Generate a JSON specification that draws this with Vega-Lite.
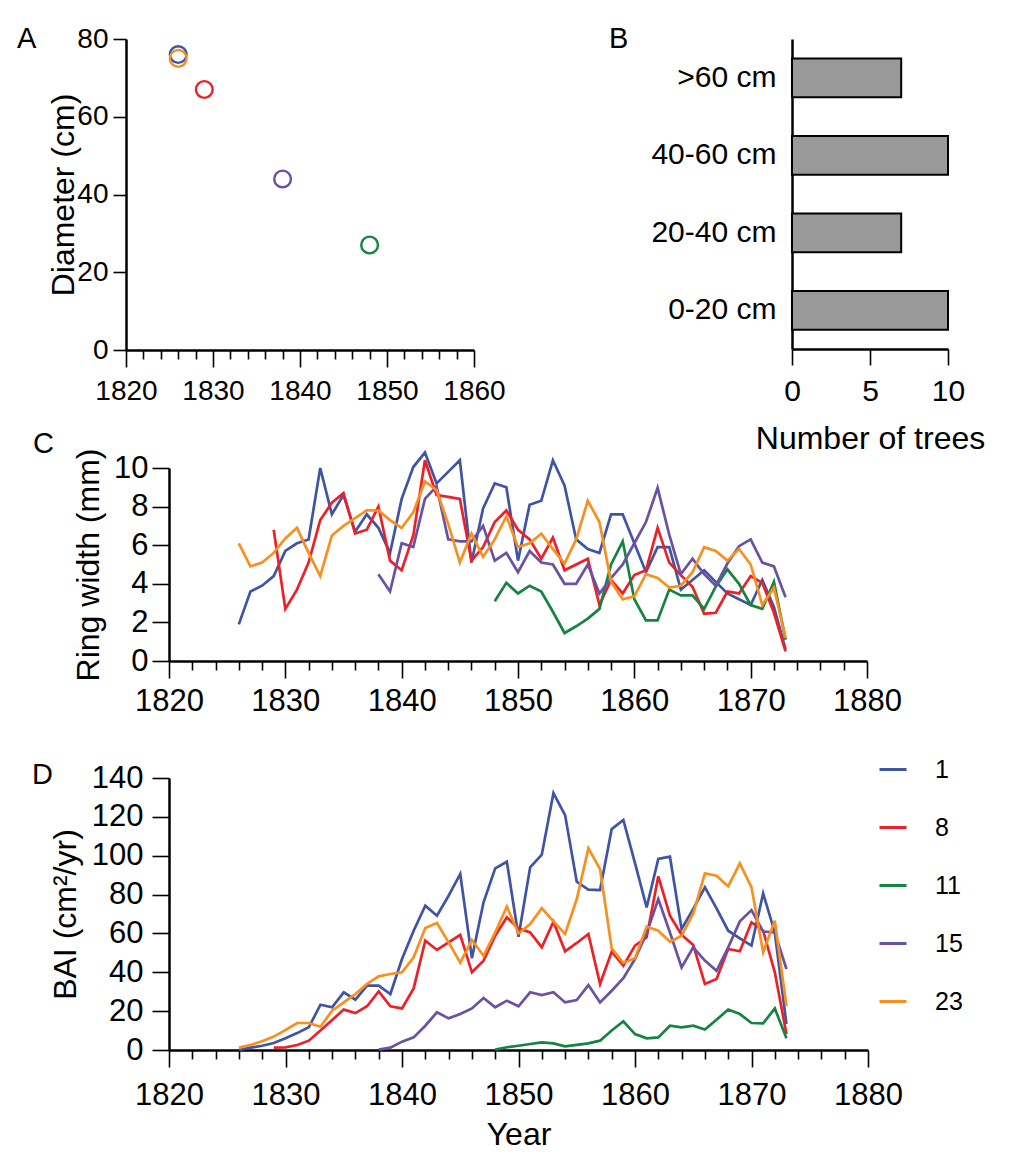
{
  "$schema": "https://vega.github.io/schema/vega-lite/v6.json",
  "background": "white",
  "padding": {"left": 17, "top": 25, "right": 5, "bottom": 5},
  "spacing": -24,
  "datasets": {
    "diam": [
      {"tree": "1", "year": 1826, "diameter": 76},
      {"tree": "8", "year": 1829, "diameter": 67},
      {"tree": "11", "year": 1848, "diameter": 27},
      {"tree": "15", "year": 1838, "diameter": 44},
      {"tree": "23", "year": 1826, "diameter": 75}
    ],
    "classes": [
      {"cls": ">60 cm", "n": 7},
      {"cls": "40-60 cm", "n": 10},
      {"cls": "20-40 cm", "n": 7},
      {"cls": "0-20 cm", "n": 10}
    ],
    "growth": [
      {"tree":"1","year":1826,"rw":1.9,"bai":0},
      {"tree":"1","year":1827,"rw":3.6,"bai":1.2},
      {"tree":"1","year":1828,"rw":3.9,"bai":2.2},
      {"tree":"1","year":1829,"rw":4.4,"bai":3.6},
      {"tree":"1","year":1830,"rw":5.7,"bai":6},
      {"tree":"1","year":1831,"rw":6.1,"bai":8.7},
      {"tree":"1","year":1832,"rw":6.3,"bai":11.7},
      {"tree":"1","year":1833,"rw":10.0,"bai":23.3},
      {"tree":"1","year":1834,"rw":7.6,"bai":22},
      {"tree":"1","year":1835,"rw":8.6,"bai":29.7},
      {"tree":"1","year":1836,"rw":6.7,"bai":25.9},
      {"tree":"1","year":1837,"rw":7.6,"bai":33.1},
      {"tree":"1","year":1838,"rw":6.9,"bai":33.1},
      {"tree":"1","year":1839,"rw":5.6,"bai":28.8},
      {"tree":"1","year":1840,"rw":8.4,"bai":46.8},
      {"tree":"1","year":1841,"rw":10.05,"bai":61.4},
      {"tree":"1","year":1842,"rw":10.8,"bai":74.3},
      {"tree":"1","year":1843,"rw":9.2,"bai":69.1},
      {"tree":"1","year":1844,"rw":9.8,"bai":79.4},
      {"tree":"1","year":1845,"rw":10.4,"bai":90.6},
      {"tree":"1","year":1846,"rw":5.1,"bai":47.3},
      {"tree":"1","year":1847,"rw":7.9,"bai":76},
      {"tree":"1","year":1848,"rw":9.2,"bai":93.5},
      {"tree":"1","year":1849,"rw":9.0,"bai":96.9},
      {"tree":"1","year":1850,"rw":5.2,"bai":58.3},
      {"tree":"1","year":1851,"rw":8.1,"bai":94},
      {"tree":"1","year":1852,"rw":8.3,"bai":100.5},
      {"tree":"1","year":1853,"rw":10.4,"bai":132.2},
      {"tree":"1","year":1854,"rw":9.1,"bai":120.9},
      {"tree":"1","year":1855,"rw":6.3,"bai":86.6},
      {"tree":"1","year":1856,"rw":5.8,"bai":82.5},
      {"tree":"1","year":1857,"rw":5.6,"bai":82.3},
      {"tree":"1","year":1858,"rw":7.6,"bai":113.7},
      {"tree":"1","year":1859,"rw":7.6,"bai":118.4},
      {"tree":"1","year":1860,"rw":6.1,"bai":96.2},
      {"tree":"1","year":1861,"rw":4.6,"bai":73.4},
      {"tree":"1","year":1862,"rw":5.9,"bai":98.3},
      {"tree":"1","year":1863,"rw":5.9,"bai":99.5},
      {"tree":"1","year":1864,"rw":3.7,"bai":62.3},
      {"tree":"1","year":1865,"rw":4.2,"bai":72.6},
      {"tree":"1","year":1866,"rw":4.7,"bai":83.7},
      {"tree":"1","year":1867,"rw":4.1,"bai":72.9},
      {"tree":"1","year":1868,"rw":3.5,"bai":61.4},
      {"tree":"1","year":1869,"rw":3.2,"bai":57.5},
      {"tree":"1","year":1870,"rw":2.9,"bai":53.7},
      {"tree":"1","year":1871,"rw":4.2,"bai":80.6},
      {"tree":"1","year":1872,"rw":2.8,"bai":60.5},
      {"tree":"1","year":1873,"rw":0.6,"bai":13.4},
      {"tree":"8","year":1829,"rw":6.8,"bai":1.2},
      {"tree":"8","year":1830,"rw":2.7,"bai":1.4},
      {"tree":"8","year":1831,"rw":3.7,"bai":2.6},
      {"tree":"8","year":1832,"rw":5.1,"bai":4.8},
      {"tree":"8","year":1833,"rw":7.3,"bai":10},
      {"tree":"8","year":1834,"rw":8.2,"bai":15.4},
      {"tree":"8","year":1835,"rw":8.7,"bai":20.8},
      {"tree":"8","year":1836,"rw":6.6,"bai":19},
      {"tree":"8","year":1837,"rw":6.8,"bai":22.5},
      {"tree":"8","year":1838,"rw":8.0,"bai":30.2},
      {"tree":"8","year":1839,"rw":5.2,"bai":22.5},
      {"tree":"8","year":1840,"rw":4.7,"bai":21.4},
      {"tree":"8","year":1841,"rw":6.5,"bai":31.7},
      {"tree":"8","year":1842,"rw":10.4,"bai":56.3},
      {"tree":"8","year":1843,"rw":8.6,"bai":51.5},
      {"tree":"8","year":1844,"rw":8.5,"bai":55.4},
      {"tree":"8","year":1845,"rw":8.4,"bai":59.3},
      {"tree":"8","year":1846,"rw":5.2,"bai":40},
      {"tree":"8","year":1847,"rw":5.9,"bai":46},
      {"tree":"8","year":1848,"rw":7.2,"bai":58.8},
      {"tree":"8","year":1849,"rw":7.8,"bai":68.3},
      {"tree":"8","year":1850,"rw":6.8,"bai":62.6},
      {"tree":"8","year":1851,"rw":6.3,"bai":60.5},
      {"tree":"8","year":1852,"rw":5.3,"bai":52.8},
      {"tree":"8","year":1853,"rw":6.4,"bai":66},
      {"tree":"8","year":1854,"rw":4.7,"bai":50.8},
      {"tree":"8","year":1855,"rw":5.0,"bai":55.1},
      {"tree":"8","year":1856,"rw":5.3,"bai":59.7},
      {"tree":"8","year":1857,"rw":2.9,"bai":34},
      {"tree":"8","year":1858,"rw":4.2,"bai":50.6},
      {"tree":"8","year":1859,"rw":3.5,"bai":43.4},
      {"tree":"8","year":1860,"rw":4.45,"bai":53.7},
      {"tree":"8","year":1861,"rw":4.7,"bai":58},
      {"tree":"8","year":1862,"rw":6.9,"bai":89.4},
      {"tree":"8","year":1863,"rw":5.1,"bai":69.1},
      {"tree":"8","year":1864,"rw":4.45,"bai":59.3},
      {"tree":"8","year":1865,"rw":3.85,"bai":54},
      {"tree":"8","year":1866,"rw":2.45,"bai":34},
      {"tree":"8","year":1867,"rw":2.5,"bai":36.5},
      {"tree":"8","year":1868,"rw":3.6,"bai":52},
      {"tree":"8","year":1869,"rw":3.5,"bai":50.8},
      {"tree":"8","year":1870,"rw":4.4,"bai":65.7},
      {"tree":"8","year":1871,"rw":4.05,"bai":61.4},
      {"tree":"8","year":1872,"rw":2.5,"bai":40},
      {"tree":"8","year":1873,"rw":0.5,"bai":8.2},
      {"tree":"11","year":1848,"rw":3.1,"bai":0.2},
      {"tree":"11","year":1849,"rw":4.05,"bai":1.4},
      {"tree":"11","year":1850,"rw":3.5,"bai":2.2},
      {"tree":"11","year":1851,"rw":3.9,"bai":3.1},
      {"tree":"11","year":1852,"rw":3.6,"bai":3.9},
      {"tree":"11","year":1853,"rw":2.55,"bai":3.4},
      {"tree":"11","year":1854,"rw":1.45,"bai":1.9},
      {"tree":"11","year":1855,"rw":1.8,"bai":2.6},
      {"tree":"11","year":1856,"rw":2.2,"bai":3.4},
      {"tree":"11","year":1857,"rw":2.7,"bai":4.8},
      {"tree":"11","year":1858,"rw":5.0,"bai":10},
      {"tree":"11","year":1859,"rw":6.2,"bai":14.8},
      {"tree":"11","year":1860,"rw":3.2,"bai":8.2},
      {"tree":"11","year":1861,"rw":2.1,"bai":6},
      {"tree":"11","year":1862,"rw":2.1,"bai":6.5},
      {"tree":"11","year":1863,"rw":3.7,"bai":12.5},
      {"tree":"11","year":1864,"rw":3.4,"bai":11.7},
      {"tree":"11","year":1865,"rw":3.4,"bai":12.5},
      {"tree":"11","year":1866,"rw":2.7,"bai":10.5},
      {"tree":"11","year":1867,"rw":3.85,"bai":15.6},
      {"tree":"11","year":1868,"rw":4.75,"bai":20.8},
      {"tree":"11","year":1869,"rw":4.0,"bai":18.5},
      {"tree":"11","year":1870,"rw":2.9,"bai":13.9},
      {"tree":"11","year":1871,"rw":2.7,"bai":13.7},
      {"tree":"11","year":1872,"rw":4.1,"bai":21.4},
      {"tree":"11","year":1873,"rw":1.1,"bai":6},
      {"tree":"15","year":1838,"rw":4.5,"bai":0.2},
      {"tree":"15","year":1839,"rw":3.6,"bai":1.2},
      {"tree":"15","year":1840,"rw":6.1,"bai":4.3},
      {"tree":"15","year":1841,"rw":5.9,"bai":6.5},
      {"tree":"15","year":1842,"rw":8.4,"bai":12.5},
      {"tree":"15","year":1843,"rw":9.05,"bai":19.4},
      {"tree":"15","year":1844,"rw":6.3,"bai":16.3},
      {"tree":"15","year":1845,"rw":6.2,"bai":18.5},
      {"tree":"15","year":1846,"rw":6.2,"bai":21.4},
      {"tree":"15","year":1847,"rw":7.0,"bai":26.8},
      {"tree":"15","year":1848,"rw":5.2,"bai":22},
      {"tree":"15","year":1849,"rw":5.6,"bai":25.4},
      {"tree":"15","year":1850,"rw":4.6,"bai":22.5},
      {"tree":"15","year":1851,"rw":5.7,"bai":29.7},
      {"tree":"15","year":1852,"rw":5.1,"bai":28.3},
      {"tree":"15","year":1853,"rw":5.0,"bai":29.7},
      {"tree":"15","year":1854,"rw":4.0,"bai":24.5},
      {"tree":"15","year":1855,"rw":4.0,"bai":25.7},
      {"tree":"15","year":1856,"rw":5.0,"bai":33.4},
      {"tree":"15","year":1857,"rw":3.5,"bai":24.5},
      {"tree":"15","year":1858,"rw":4.3,"bai":30.5},
      {"tree":"15","year":1859,"rw":5.0,"bai":37},
      {"tree":"15","year":1860,"rw":6.1,"bai":46.8},
      {"tree":"15","year":1861,"rw":7.2,"bai":60.2},
      {"tree":"15","year":1862,"rw":8.97,"bai":77.7},
      {"tree":"15","year":1863,"rw":6.55,"bai":60.5},
      {"tree":"15","year":1864,"rw":4.5,"bai":42.5},
      {"tree":"15","year":1865,"rw":5.3,"bai":52.8},
      {"tree":"15","year":1866,"rw":4.5,"bai":46},
      {"tree":"15","year":1867,"rw":3.9,"bai":40.8},
      {"tree":"15","year":1868,"rw":5.05,"bai":52.8},
      {"tree":"15","year":1869,"rw":5.95,"bai":66.2},
      {"tree":"15","year":1870,"rw":6.3,"bai":72},
      {"tree":"15","year":1871,"rw":5.1,"bai":61},
      {"tree":"15","year":1872,"rw":4.9,"bai":60.5},
      {"tree":"15","year":1873,"rw":3.3,"bai":41.7},
      {"tree":"23","year":1826,"rw":6.1,"bai":1.2},
      {"tree":"23","year":1827,"rw":4.9,"bai":2.6},
      {"tree":"23","year":1828,"rw":5.1,"bai":4.5},
      {"tree":"23","year":1829,"rw":5.6,"bai":6.9},
      {"tree":"23","year":1830,"rw":6.35,"bai":10.3},
      {"tree":"23","year":1831,"rw":6.9,"bai":13.9},
      {"tree":"23","year":1832,"rw":5.6,"bai":13.9},
      {"tree":"23","year":1833,"rw":4.4,"bai":12},
      {"tree":"23","year":1834,"rw":6.5,"bai":20.2},
      {"tree":"23","year":1835,"rw":7.0,"bai":24.5},
      {"tree":"23","year":1836,"rw":7.4,"bai":28.8},
      {"tree":"23","year":1837,"rw":7.8,"bai":34},
      {"tree":"23","year":1838,"rw":7.8,"bai":37.9},
      {"tree":"23","year":1839,"rw":7.3,"bai":39.1},
      {"tree":"23","year":1840,"rw":6.9,"bai":40},
      {"tree":"23","year":1841,"rw":7.7,"bai":47.7},
      {"tree":"23","year":1842,"rw":9.3,"bai":62.8},
      {"tree":"23","year":1843,"rw":8.85,"bai":65.4},
      {"tree":"23","year":1844,"rw":7.1,"bai":55.4},
      {"tree":"23","year":1845,"rw":5.1,"bai":45},
      {"tree":"23","year":1846,"rw":6.6,"bai":56.6},
      {"tree":"23","year":1847,"rw":5.4,"bai":48.5},
      {"tree":"23","year":1848,"rw":6.3,"bai":60.5},
      {"tree":"23","year":1849,"rw":7.5,"bai":73.8},
      {"tree":"23","year":1850,"rw":5.9,"bai":60},
      {"tree":"23","year":1851,"rw":6.1,"bai":64.8},
      {"tree":"23","year":1852,"rw":6.6,"bai":73},
      {"tree":"23","year":1853,"rw":5.8,"bai":66.2},
      {"tree":"23","year":1854,"rw":5.05,"bai":59.7},
      {"tree":"23","year":1855,"rw":6.3,"bai":77.7},
      {"tree":"23","year":1856,"rw":8.3,"bai":103.8},
      {"tree":"23","year":1857,"rw":7.2,"bai":93.1},
      {"tree":"23","year":1858,"rw":4.1,"bai":52.3},
      {"tree":"23","year":1859,"rw":3.2,"bai":44.8},
      {"tree":"23","year":1860,"rw":3.35,"bai":47.2},
      {"tree":"23","year":1861,"rw":4.5,"bai":63.5},
      {"tree":"23","year":1862,"rw":4.3,"bai":61.4},
      {"tree":"23","year":1863,"rw":3.8,"bai":55.7},
      {"tree":"23","year":1864,"rw":3.9,"bai":58.8},
      {"tree":"23","year":1865,"rw":4.6,"bai":70.3},
      {"tree":"23","year":1866,"rw":5.9,"bai":90.9},
      {"tree":"23","year":1867,"rw":5.7,"bai":89.7},
      {"tree":"23","year":1868,"rw":5.2,"bai":84.2},
      {"tree":"23","year":1869,"rw":5.8,"bai":96.1},
      {"tree":"23","year":1870,"rw":5.0,"bai":83.7},
      {"tree":"23","year":1871,"rw":2.9,"bai":50.3},
      {"tree":"23","year":1872,"rw":3.8,"bai":66.6},
      {"tree":"23","year":1873,"rw":1.2,"bai":22.5}
    ]
  },
  "vconcat": [
    {
      "hconcat": [
        {
          "width": 348,
          "height": 311,
          "title": {"text": "A", "anchor": "start", "frame": "group", "orient": "top", "fontSize": 29, "fontWeight": "normal", "color": "black", "baseline": "alphabetic", "offset": 0, "dx": -109, "dy": 52},
          "data": {"name": "diam"},
          "mark": {"type": "point", "filled": false, "strokeWidth": 2.4, "size": 280, "opacity": 1},
          "encoding": {
            "x": {"field": "year", "type": "quantitative",
              "scale": {"domain": [1820, 1860], "nice": false, "zero": false},
              "axis": {"title": null, "format": "d",
                "values": [1820,1822,1824,1826,1828,1830,1832,1834,1836,1838,1840,1842,1844,1846,1848,1850,1852,1854,1856,1858,1860],
                "labelExpr": "datum.value % 10 === 0 ? datum.label : ''",
                "tickSize": {"condition": {"test": "datum.value % 10 === 0", "value": 17}, "value": 9},
                "labelFontSize": 28, "labelPadding": 10}},
            "y": {"field": "diameter", "type": "quantitative",
              "scale": {"domain": [0, 80], "nice": false},
              "axis": {"title": "Diameter (cm)", "values": [0, 20, 40, 60, 80], "tickSize": 13, "labelFontSize": 28, "labelPadding": 5, "titlePadding": -4}},
            "color": {"field": "tree", "type": "nominal",
              "scale": {"domain": ["1", "8", "11", "15", "23"], "range": ["#3F54A5", "#EE2027", "#148440", "#6A51A3", "#F7901E"]},
              "legend": null}
          }
        },
        {
          "width": 156,
          "height": 310,
          "title": {"text": "B", "anchor": "start", "frame": "group", "orient": "top", "fontSize": 29, "fontWeight": "normal", "color": "black", "baseline": "alphabetic", "offset": 0, "dx": -183, "dy": 38},
          "data": {"name": "classes"},
          "mark": {"type": "bar", "color": "#999999", "stroke": "black", "strokeWidth": 2},
          "encoding": {
            "y": {"field": "cls", "type": "nominal", "sort": [">60 cm", "40-60 cm", "20-40 cm", "0-20 cm"],
              "scale": {"paddingInner": 0.5, "paddingOuter": 0.25},
              "axis": {"title": null, "ticks": false, "labelPadding": 16, "labelFontSize": 30}},
            "x": {"field": "n", "type": "quantitative",
              "scale": {"domain": [0, 10], "nice": false},
              "axis": {"title": "Number of trees", "values": [0, 5, 10], "tickSize": 16, "labelPadding": 11, "titlePadding": 17, "labelFontSize": 30, "labelFlush": false}}
          }
        }
      ],
      "spacing": 103
    },
    {
      "hconcat": [
        {"width": 4, "height": 1, "view": {"fill": "white", "stroke": null}, "data": {"values": []}, "mark": "point", "encoding": {}},
        {
          "vconcat": [
            {
              "width": 698,
              "height": 193,
              "title": {"text": "C", "anchor": "start", "frame": "group", "orient": "top", "fontSize": 29, "fontWeight": "normal", "color": "black", "baseline": "alphabetic", "offset": 0, "dx": -136, "dy": 35},
              "data": {"name": "growth"},
              "mark": {"type": "line", "strokeWidth": 2.7, "clip": false},
              "encoding": {
                "x": {"field": "year", "type": "quantitative",
                  "scale": {"domain": [1820, 1880], "nice": false, "zero": false},
                  "axis": {"title": null, "format": "d",
                    "values": [1820,1822,1824,1826,1828,1830,1832,1834,1836,1838,1840,1842,1844,1846,1848,1850,1852,1854,1856,1858,1860,1862,1864,1866,1868,1870,1872,1874,1876,1878,1880],
                    "labelExpr": "datum.value % 10 === 0 ? datum.label : ''",
                    "tickSize": {"condition": {"test": "datum.value % 10 === 0", "value": 17}, "value": 9},
                    "labelPadding": 8}},
                "y": {"field": "rw", "type": "quantitative",
                  "scale": {"domain": [0, 10], "nice": false},
                  "axis": {"title": "Ring width (mm)", "values": [0, 2, 4, 6, 8, 10], "tickSize": 17, "labelPadding": 4, "titlePadding": 8}},
                "color": {"field": "tree", "type": "nominal", "sort": ["1", "8", "11", "15", "23"],
                  "scale": {"domain": ["1", "8", "11", "15", "23"], "range": ["#3F54A5", "#EE2027", "#148440", "#6A51A3", "#F7901E"]},
                  "legend": null}
              }
            },
            {
              "width": 699,
              "height": 272,
              "title": {"text": "D", "anchor": "start", "frame": "group", "orient": "top", "fontSize": 29, "fontWeight": "normal", "color": "black", "baseline": "alphabetic", "offset": 0, "dx": -137, "dy": 58},
              "data": {"name": "growth"},
              "mark": {"type": "line", "strokeWidth": 2.7, "clip": false},
              "encoding": {
                "x": {"field": "year", "type": "quantitative",
                  "scale": {"domain": [1820, 1880], "nice": false, "zero": false},
                  "axis": {"title": "Year", "format": "d",
                    "values": [1820,1822,1824,1826,1828,1830,1832,1834,1836,1838,1840,1842,1844,1846,1848,1850,1852,1854,1856,1858,1860,1862,1864,1866,1868,1870,1872,1874,1876,1878,1880],
                    "labelExpr": "datum.value % 10 === 0 ? datum.label : ''",
                    "tickSize": {"condition": {"test": "datum.value % 10 === 0", "value": 17}, "value": 9},
                    "labelPadding": 13, "titlePadding": 9}},
                "y": {"field": "bai", "type": "quantitative",
                  "scale": {"domain": [0, 140], "nice": false},
                  "axis": {"title": "BAI (cm²/yr)", "values": [0, 20, 40, 60, 80, 100, 120, 140], "tickSize": 17, "labelPadding": 9, "titlePadding": 9}},
                "color": {"field": "tree", "type": "nominal", "sort": ["1", "8", "11", "15", "23"],
                  "scale": {"domain": ["1", "8", "11", "15", "23"], "range": ["#3F54A5", "#EE2027", "#148440", "#6A51A3", "#F7901E"]},
                  "legend": {"orient": "none", "legendX": 709, "legendY": -23.5, "title": null, "symbolType": "stroke", "symbolSize": 729, "symbolStrokeWidth": 3, "labelFontSize": 25, "labelOffset": 27, "rowPadding": 30, "padding": 0, "labelColor": "black"}}
              }
            }
          ],
          "spacing": 38,
          "resolve": {"scale": {"color": "independent"}, "legend": {"color": "independent"}}
        }
      ],
      "spacing": -98,
      "resolve": {"scale": {"color": "independent"}, "legend": {"color": "independent"}}
    }
  ],
  "resolve": {"scale": {"color": "independent"}, "legend": {"color": "independent"}},
  "config": {
    "font": "Liberation Sans",
    "view": {"stroke": null},
    "axis": {
      "domainColor": "black", "domainWidth": 2.5, "tickColor": "black", "tickWidth": 1.6,
      "labelColor": "black", "titleColor": "black", "labelFont": "Liberation Sans", "titleFont": "Liberation Sans",
      "titleFontWeight": "normal", "grid": false, "labelFontSize": 31, "titleFontSize": 32,
      "labelOverlap": false, "labelFlush": false, "labelBound": false
    },
    "legend": {"labelFont": "Liberation Sans"},
    "title": {"font": "Liberation Sans"}
  }
}
